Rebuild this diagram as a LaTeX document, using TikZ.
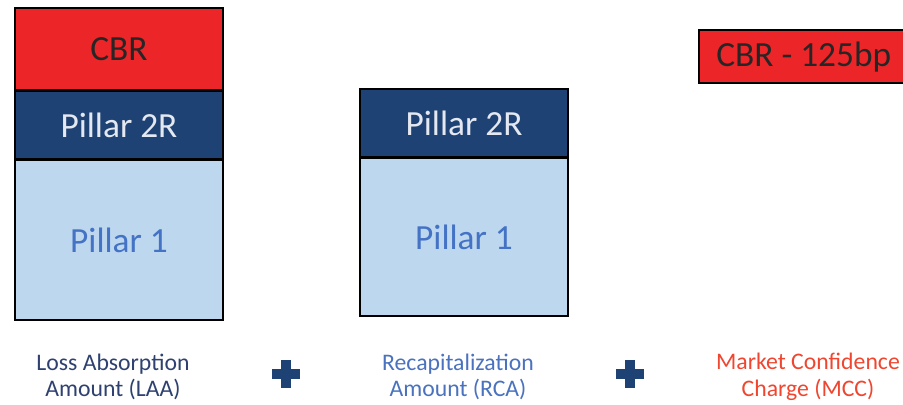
\documentclass[tikz,border=0pt]{standalone}
\usepackage{fontspec}
\setmainfont{Carlito}
\definecolor{cbrred}{HTML}{EC2528}
\definecolor{navy}{HTML}{1F4274}
\definecolor{lightb}{HTML}{BDD7EE}
\definecolor{p1text}{HTML}{4472C4}
\definecolor{p2text}{HTML}{E4E8F0}
\definecolor{laatext}{HTML}{2E4170}
\definecolor{rcatext}{HTML}{4A72BE}
\definecolor{mcctext}{HTML}{F0462F}
\begin{document}
\begin{tikzpicture}[x=0.75pt,y=-0.75pt,
  blk/.style={draw=black,line width=1.5pt,inner sep=0pt,outer sep=0pt,font=\fontsize{26.5}{30}\selectfont},
  lbl/.style={align=center,font=\fontsize{17.8}{20}\selectfont},
  plus/.style={fill=navy,draw=none}]
\useasboundingbox (0,0) rectangle (903,404);
\fill[white] (0,0) rectangle (903,404);
% left stack
\node[blk,fill=cbrred,text=black!85,minimum width=208*0.75pt,minimum height=82*0.75pt,anchor=north west] (cbr) at (15,8) {CBR};
\node[blk,fill=navy,text=p2text,minimum width=208*0.75pt,minimum height=68*0.75pt,anchor=north west] (p2l) at (15,91) {Pillar 2R};
\node[blk,fill=lightb,text=p1text,minimum width=208*0.75pt,minimum height=160*0.75pt,anchor=north west] (p1l) at (15,160) {Pillar 1};
% middle stack
\node[blk,fill=navy,text=p2text,minimum width=208*0.75pt,minimum height=68*0.75pt,anchor=north west] (p2m) at (360,89) {Pillar 2R};
\node[blk,fill=lightb,text=p1text,minimum width=208*0.75pt,minimum height=158*0.75pt,anchor=north west] (p1m) at (360,158) {Pillar 1};
% right box
\node[blk,fill=cbrred,minimum width=210*0.75pt,minimum height=53*0.75pt,anchor=north west] (mccbox) at (699,30) {};
\node[font=\fontsize{26.5}{30}\selectfont,text=black!85,anchor=west,inner sep=0pt] (mcctxt) at (716,57) {CBR - 125bp};
% labels
\node[lbl,text=laatext] (laa) at (113,377) {Loss Absorption\\Amount (LAA)};
\node[lbl,text=rcatext] (rca) at (458,377) {Recapitalization\\Amount (RCA)};
\node[lbl,text=mcctext] (mcc) at (808,377) {Market Confidence\\Charge (MCC)};
% plus signs
\fill[plus] (281,360) rectangle (291,388);
\fill[plus] (272,369) rectangle (300,379);
\fill[plus] (625,360) rectangle (635,388);
\fill[plus] (616,369) rectangle (644,379);
\end{tikzpicture}
\end{document}
